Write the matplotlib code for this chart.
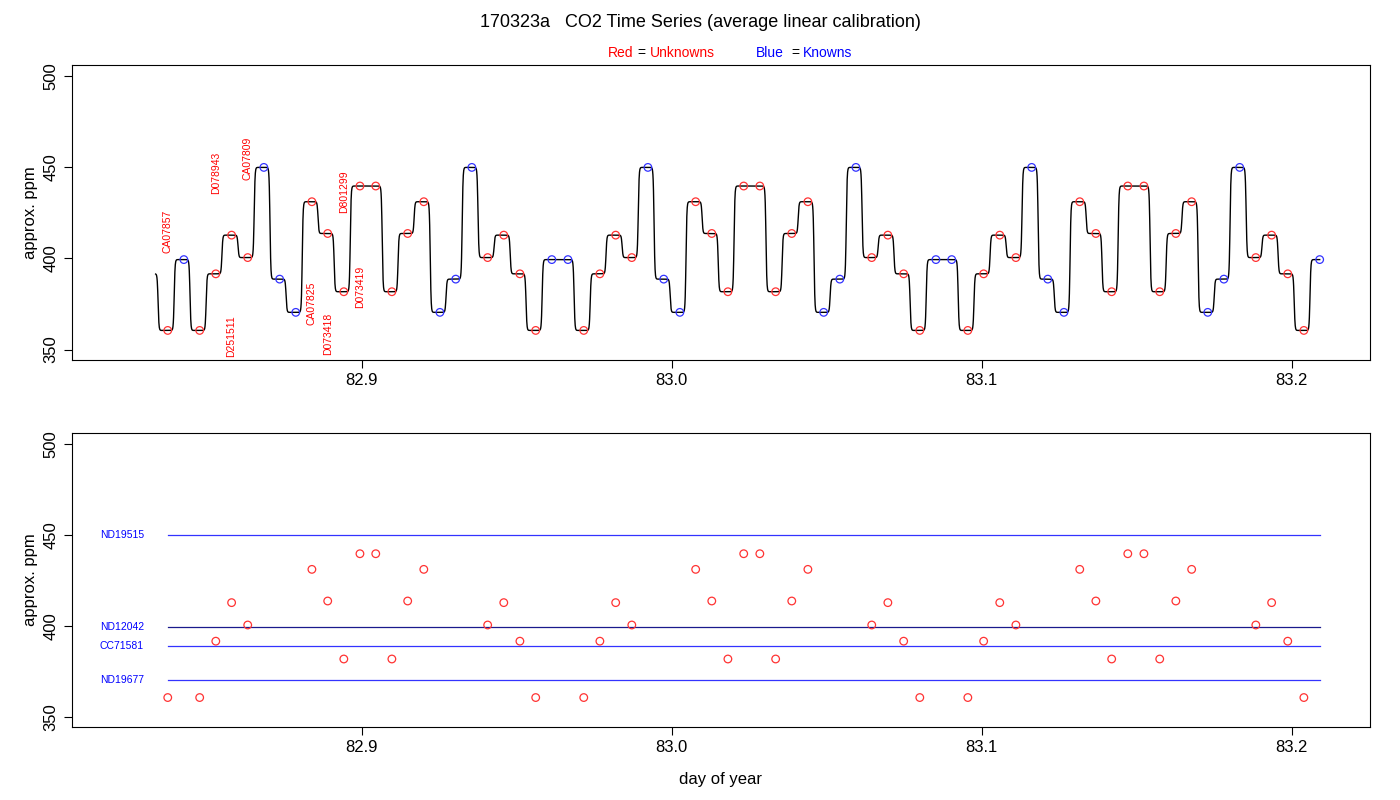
import numpy as np
import matplotlib
matplotlib.use("Agg")
import matplotlib.pyplot as plt

plt.rcParams["font.family"] = "Liberation Sans"

times = [82.8374, 82.8426, 82.8477, 82.8529, 82.8580, 82.8632, 82.8684, 82.8735, 82.8787, 82.8839,
         82.8890, 82.8942, 82.8994, 82.9045, 82.9097, 82.9148, 82.9200, 82.9252, 82.9303, 82.9355,
         82.9406, 82.9458, 82.9510, 82.9561, 82.9613, 82.9665, 82.9716, 82.9768, 82.9819, 82.9871,
         82.9923, 82.9974, 83.0026, 83.0077, 83.0129, 83.0181, 83.0232, 83.0284, 83.0335, 83.0387,
         83.0439, 83.0490, 83.0542, 83.0594, 83.0645, 83.0697, 83.0748, 83.0800, 83.0852, 83.0903,
         83.0955, 83.1006, 83.1058, 83.1110, 83.1161, 83.1213, 83.1265, 83.1316, 83.1368, 83.1419,
         83.1471, 83.1523, 83.1574, 83.1626, 83.1677, 83.1729, 83.1781, 83.1832, 83.1884, 83.1935,
         83.1987, 83.2039, 83.2090]
values = [360.5, 399.3, 360.5, 391.5, 412.7, 400.4, 449.8, 388.6, 370.4, 431.0, 413.6, 381.7, 439.6, 439.6,
          381.7, 413.6, 431.0, 370.4, 388.6, 449.8, 400.4, 412.7, 391.5, 360.5,
          399.3, 399.3, 360.5, 391.5, 412.7, 400.4, 449.8, 388.6, 370.4, 431.0, 413.6, 381.7, 439.6, 439.6,
          381.7, 413.6, 431.0, 370.4, 388.6, 449.8, 400.4, 412.7, 391.5, 360.5,
          399.3, 399.3, 360.5, 391.5, 412.7, 400.4, 449.8, 388.6, 370.4, 431.0, 413.6, 381.7, 439.6, 439.6,
          381.7, 413.6, 431.0, 370.4, 388.6, 449.8, 400.4, 412.7, 391.5, 360.5, 399.3]
kinds = list("RBRRRRBBBRRRRRRRRBBBRRRR" "BBRRRRBBBRRRRRRRRBBBRRRR" "BBRRRRBBBRRRRRRRRBBBRRRR" "B")
line_start_time = 82.8335
line_start_value = 391.5

sample_names = ["CA07857", "D078943", "CA07809", "D251511", "CA07825", "D073418", "D801299", "D073419"]
sample_label_idx = [0, 3, 5, 4, 9, 10, 11, 12]
sample_label_y = [403, 435, 443, 346, 363.5, 347, 425, 373]

std_names = ["ND19515", "ND12042", "CC71581", "ND19677"]
std_values = [449.8, 399.3, 388.6, 370.4]
std_colors = ["#3333ff", "#1a1a8c", "#3333ff", "#3333ff"]

xticks = [82.9, 83.0, 83.1, 83.2]
yticks = [350, 400, 450, 500]

t = np.array(times); v = np.array(values)
dt = np.median(np.diff(t))

fig = plt.figure(figsize=(14, 8), dpi=100)
ax1 = fig.add_axes([0.0514, 0.55, 0.9271, 0.369])
ax2 = fig.add_axes([0.0514, 0.09125, 0.9271, 0.3675])

# smooth step trace
grid = np.linspace(line_start_time, t[-1], 8000)
trace = np.full_like(grid, line_start_value)
prev = np.concatenate([[line_start_value], v[:-1]])
centers = t - dt + 0.40 * dt
for c, a, b in zip(centers, prev, v):
    z = np.clip((grid - c) / 0.00014, -50, 50)
    trace += (b - a) / (1 + np.exp(-z))
ax1.plot(grid, trace, color="black", lw=1)

red = np.array([k == "R" for k in kinds])
for ax in (ax1, ax2):
    ax.scatter(t[red], v[red], s=30, facecolors="none", edgecolors="#ff3333", lw=0.9, zorder=3)
ax1.scatter(t[~red], v[~red], s=30, facecolors="none", edgecolors="#3333ff", lw=0.9, zorder=3)

for name, i, y in zip(sample_names, sample_label_idx, sample_label_y):
    ax1.text(t[i], y, name, rotation=90, ha="center", va="bottom", color="red", fontsize=7.5)

for name, val, col in zip(std_names, std_values, std_colors):
    ax2.plot([t[0], t[-1]], [val, val], color=col, lw=0.9)
    ax2.text(82.8155, val, name, color="blue", fontsize=7.5, ha="left", va="center")

for ax in (ax1, ax2):
    ax.set_xlim(82.8065, 83.2252)
    ax.set_ylim(344.3, 506)
    ax.set_xticks(xticks)
    ax.set_xticklabels([f"{x:.1f}" for x in xticks], fontsize=12)
    ax.set_yticks(yticks)
    ax.set_yticklabels([str(y) for y in yticks], fontsize=12, rotation=90, va="center")
    ax.set_ylabel("approx. ppm", fontsize=12)
    ax.tick_params(length=6)
    for s in ax.spines.values():
        s.set_linewidth(0.8)
ax2.set_xlabel("day of year", fontsize=12, labelpad=12)

fig.text(0.5, 0.972, "170323a   CO2 Time Series (average linear calibration)", ha="center", va="center", fontsize=13)
y = 0.934
fig.text(0.434, y, "Red", color="red", fontsize=10, va="center")
fig.text(0.4555, y, "=", color="black", fontsize=10, va="center")
fig.text(0.4645, y, "Unknowns", color="red", fontsize=10, va="center")
fig.text(0.540, y, "Blue", color="blue", fontsize=10, va="center")
fig.text(0.5655, y, "=", color="black", fontsize=10, va="center")
fig.text(0.5735, y, "Knowns", color="blue", fontsize=10, va="center")

fig.savefig("out.png", dpi=100)
